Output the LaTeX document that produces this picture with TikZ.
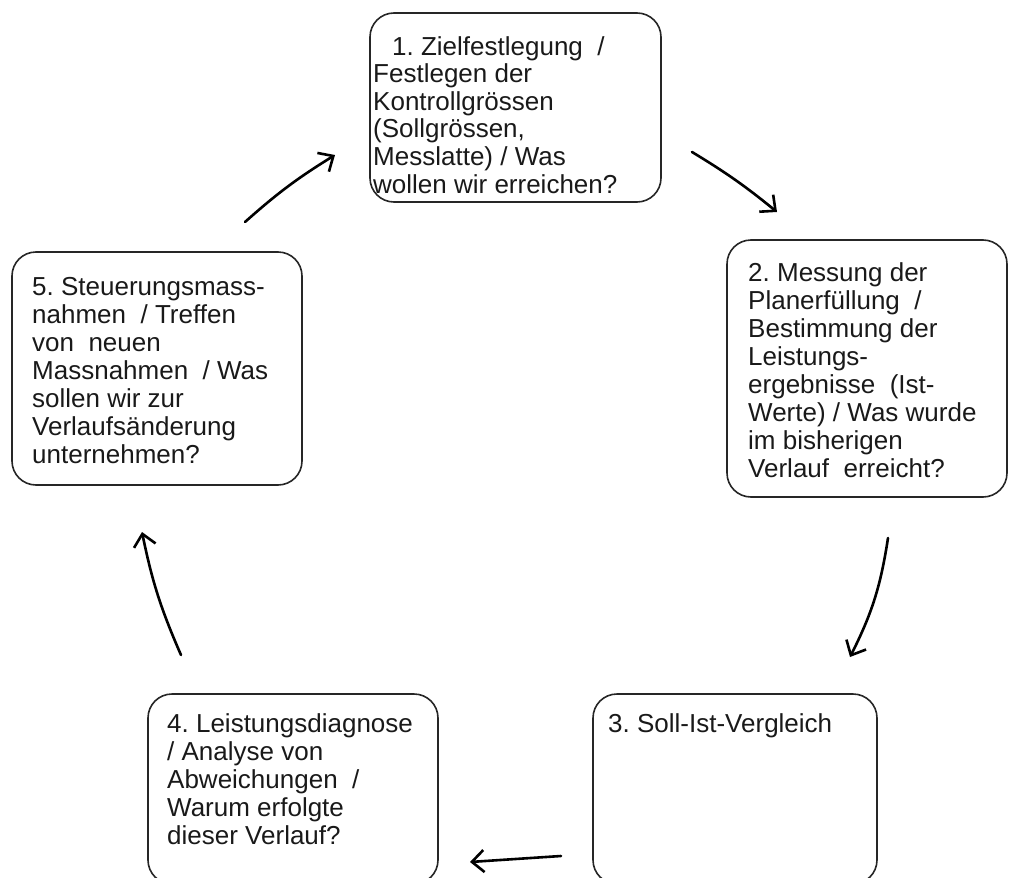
\documentclass[tikz,border=0pt]{standalone}
\usepackage{fontspec}
\setmainfont{Liberation Sans}
\usepackage{tikz}
\usetikzlibrary{arrows.meta}
\frenchspacing

\begin{document}
\begin{tikzpicture}[x=1pt, y=-1pt,
stagebox/.style={draw=black!85, line width=1.6pt, rounded corners=24pt, inner sep=0pt, outer sep=0pt},
stagetext/.style={anchor=north west, align=left, inner sep=0pt, text=black!90, font=\fontsize{26}{28}\selectfont},
cyclearrow/.style={line width=2.6pt, line cap=round, -{Straight Barb[length=12pt,width=22pt,line width=2.6pt]}}]

\useasboundingbox (0,0) rectangle (1010,878);

% stage 1
{
\node[stagebox, minimum width=291pt, minimum height=189pt] (ziel) at (515.5,107.5) {};

\node[stagetext, font=\fontsize{26}{27.6}\selectfont] (zieltext) at (373,36)
{\hspace*{19pt}1. Zielfestlegung~~/\\Festlegen der\\Kontrollgrössen\\(Sollgrössen,\\Messlatte) / Was\\wollen wir erreichen?};
}

% stage 2
{
\node[stagebox, minimum width=280pt, minimum height=257pt] (messung) at (867,368.5) {};

\node[stagetext] (messungtext) at (748,262)
{2. Messung der\\Planerfüllung~~/\\Bestimmung der\\Leistungs-\\ergebnisse~~(Ist-\\Werte) / Was wurde\\im bisherigen\\Verlauf~~erreicht?};
}

% stage 3
{
\node[stagebox, minimum width=284pt, minimum height=190pt] (vergleich) at (735,789) {};

\node[stagetext] (vergleichtext) at (608,713)
{3. Soll-Ist-Vergleich};
}

% stage 4
{
\node[stagebox, minimum width=290pt, minimum height=190pt] (diagnose) at (293,789) {};

\node[stagetext] (diagnosetext) at (167,713)
{4. Leistungsdiagnose\\/ Analyse von\\Abweichungen~~/\\Warum erfolgte\\dieser Verlauf?};
}

% stage 5
{
\node[stagebox, minimum width=290pt, minimum height=233pt] (steuerung) at (157,368.5) {};

\node[stagetext] (steuerungtext) at (32,277)
{5. Steuerungsmass-\\nahmen~~/ Treffen\\von~~neuen\\Massnahmen~~/ Was\\sollen wir zur\\Verlaufsänderung\\unternehmen?};
}

% arrows between the stages
{
\coordinate (a1s) at (692,152);
\coordinate (a1e) at (777,212);
\coordinate (a2s) at (888,538);
\coordinate (a2e) at (850,657);
\coordinate (a3s) at (561,856);
\coordinate (a3e) at (470,862);
\coordinate (a4s) at (181,655);
\coordinate (a4e) at (142,532);
\coordinate (a5s) at (245,222);
\coordinate (a5e) at (335,155);

\draw[cyclearrow] (a1s) to[bend left=4] (a1e);
\draw[cyclearrow] (a2s) to[bend left=9] (a2e);
\draw[cyclearrow] (a3s) to (a3e);
\draw[cyclearrow] (a4s) to[bend left=6] (a4e);
\draw[cyclearrow] (a5s) to[bend left=5] (a5e);
}

\end{tikzpicture}
\end{document}
